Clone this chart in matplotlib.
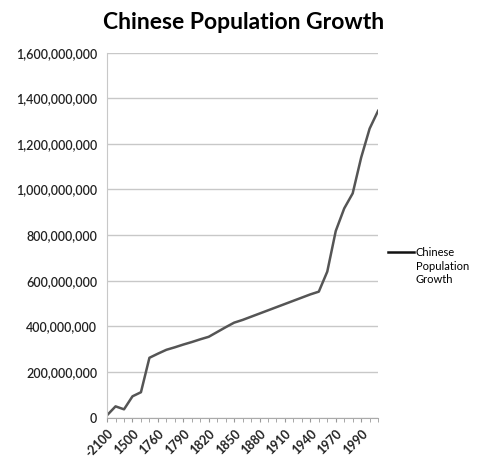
import matplotlib.pyplot as plt
from matplotlib.lines import Line2D
from matplotlib.ticker import FuncFormatter

years = ["-2100", "2", "1000", "1500", "1600", "1750",
         "1760", "1770", "1780", "1790", "1800", "1810", "1820", "1830",
         "1840", "1850", "1860", "1870", "1880", "1890", "1900", "1910",
         "1920", "1930", "1940", "1950", "1960", "1970", "1975", "1980",
         "1990", "2000", "2010"]
population = [10e6, 49e6, 36e6, 93e6, 111e6, 262e6,
              280e6, 297e6, 308e6, 320e6, 331e6, 343e6, 354e6, 375e6,
              396e6, 416e6, 428e6, 442e6, 456e6, 470e6, 484e6, 498e6,
              512e6, 526e6, 540e6, 552e6, 640e6, 818e6, 917e6, 983e6,
              1140e6, 1267e6, 1345e6]
legend_lines = ["Chinese", "Population", "Growth"]

plt.rcParams['font.family'] = ['Lato', 'DejaVu Sans']

fig = plt.figure(figsize=(4.78, 4.66), dpi=100)
ax = fig.add_axes([0.224, 0.104, 0.567, 0.783])

x = list(range(len(years)))
line, = ax.plot(x, population, color="#555555", lw=1.8)

ax.set_xlim(0, len(years) - 1)
ax.set_ylim(0, 1.6e9)
ax.set_yticks([i * 200e6 for i in range(9)])
ax.yaxis.set_major_formatter(FuncFormatter(lambda v, p: f"{int(v):,}"))
ax.grid(axis="y", color="#c8c8c8", lw=1)
ax.set_axisbelow(True)

ax.set_xticks(x[::3])
ax.set_xticklabels(years[::3], rotation=45, ha="right", rotation_mode="anchor",
                   fontsize=9, fontweight="bold", color="#222222")
ax.set_xticks(x, minor=True)
ax.tick_params(axis="x", which="both", length=3, color="#999999", pad=4)
ax.tick_params(axis="y", length=0, labelsize=9, labelcolor="#222222", pad=7)
for lbl in ax.get_yticklabels():
    lbl.set_fontweight("semibold")

for side in ["top", "right"]:
    ax.spines[side].set_visible(False)
ax.spines["left"].set_color("#c8c8c8")
ax.spines["bottom"].set_color("#aaaaaa")

fig.suptitle("Chinese Population Growth", x=0.51, y=0.975, fontsize=16.5, fontweight="bold")

handles = [Line2D([], [], color="#111111", lw=1.8),
           Line2D([], [], lw=0),
           Line2D([], [], lw=0)]
ax.legend(handles, legend_lines, loc="center left", bbox_to_anchor=(1.0, 0.415),
          frameon=False, fontsize=8, handlelength=2.3, handletextpad=0.2,
          labelspacing=0.25)

fig.savefig("out.png", dpi=100, facecolor="white")
